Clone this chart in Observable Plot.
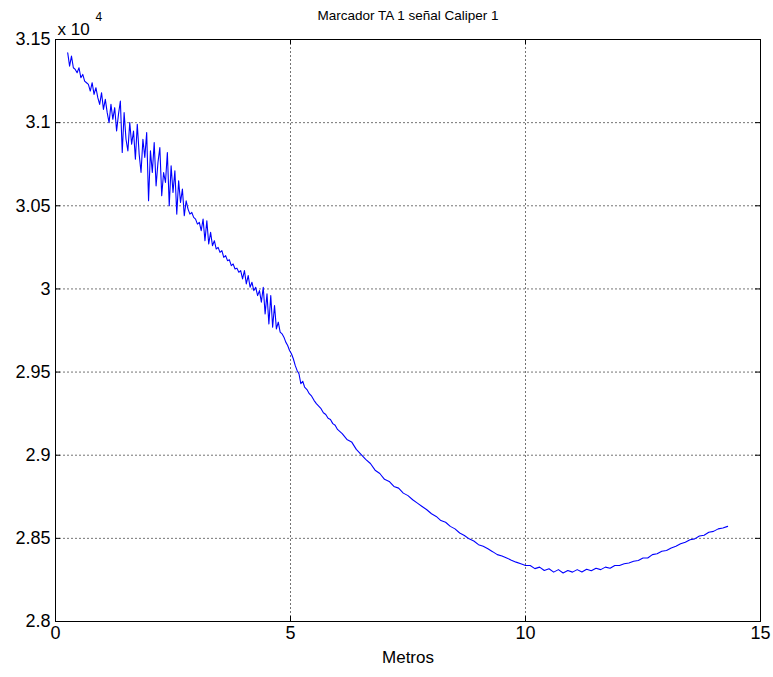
<!DOCTYPE html>
<html>
<head>
<meta charset="utf-8">
<script src="https://cdn.jsdelivr.net/npm/d3@7"></script>
<script src="https://cdn.jsdelivr.net/npm/@observablehq/plot@0.6"></script>
<style>
  html, body { margin: 0; padding: 0; background: #fff; }
  svg { display: block; }
</style>
</head>
<body>
<div id="chart"></div>
<script>
const titulo = "Marcador TA 1 señal Caliper 1";
const etiquetaX = "Metros";
const xTicks = [0, 5, 10, 15];
const yTicks = [28000, 28500, 29000, 29500, 30000, 30500, 31000, 31500];

const metros = [
  0.26,0.30,0.34,0.38,0.42,0.46,0.50,0.54,0.58,0.62,0.66,0.70,0.74,0.78,0.82,0.86,0.90,0.94,0.98,
  1.02,1.06,1.10,1.14,1.18,1.22,1.26,1.30,1.34,1.38,1.42,1.46,1.50,1.54,1.58,1.62,1.66,1.70,1.74,1.78,1.82,1.86,1.90,1.94,1.98,
  2.02,2.06,2.10,2.14,2.18,2.22,2.26,2.30,2.34,2.38,2.42,2.46,2.50,2.54,2.58,2.62,2.66,2.70,2.74,2.78,2.82,2.86,2.90,2.94,2.98,
  3.02,3.06,3.10,3.14,3.18,3.22,3.26,3.30,3.34,3.38,3.42,3.46,3.50,3.54,3.58,3.62,3.66,3.70,3.74,3.78,3.82,3.86,3.90,3.94,3.98,
  4.02,4.06,4.10,4.14,4.18,4.22,4.26,4.30,4.34,4.38,4.42,4.46,4.50,4.54,4.58,4.62,4.66,4.70,4.74,4.78,4.82,4.86,4.90,4.94,4.98,
  5.02,5.06,5.10,5.14,5.18,5.22,5.26,5.30,5.35,5.40,5.45,5.50,5.55,5.60,5.65,5.70,5.75,5.80,5.85,5.90,5.95,6.00,
  6.1,6.2,6.3,6.4,6.5,6.6,6.7,6.8,6.9,7.0,7.1,7.2,7.3,7.4,7.5,7.6,7.7,7.8,7.9,8.0,
  8.1,8.2,8.3,8.4,8.5,8.6,8.7,8.8,8.9,9.0,9.1,9.2,9.3,9.4,9.5,9.6,9.7,9.8,9.9,10.0,
  10.1,10.2,10.3,10.4,10.5,10.6,10.7,10.8,10.9,11.0,11.1,11.2,11.3,11.4,11.5,11.6,11.7,11.8,11.9,12.0,
  12.1,12.2,12.3,12.4,12.5,12.6,12.7,12.8,12.9,13.0,13.1,13.2,13.3,13.4,13.5,13.6,13.7,13.8,13.9,14.0,
  14.1,14.2,14.3
];

const valores = [
  31420,31340,31400,31330,31320,31300,31330,31270,31290,31250,31240,31230,31190,31240,31170,31210,31150,31110,31180,
  31080,31140,31060,31000,31110,31020,31090,30950,31050,31130,30820,31060,30900,30830,31000,30870,30950,30780,30990,30810,30700,30900,30790,30940,30530,
  30830,30700,30880,30620,30760,30850,30560,30700,30640,30820,30500,30740,30580,30710,30450,30650,30520,30600,30440,30530,30480,30450,30460,30430,30420,
  30390,30400,30350,30420,30290,30410,30270,30340,30260,30290,30240,30250,30220,30230,30190,30200,30170,30175,30140,30150,30120,30125,30100,30110,30060,
  30110,30030,30080,30010,30040,29990,30010,29960,29990,29920,30010,29850,29970,29790,29960,29770,29900,29760,29800,29740,29730,29710,29680,29660,29630,
  29610,29580,29540,29510,29490,29430,29445,29410,29395,29370,29355,29330,29310,29295,29280,29255,29245,29222,29215,29190,29180,29155,
  29130,29095,29080,29035,29005,28975,28950,28910,28890,28855,28842,28812,28802,28772,28757,28732,28712,28692,28672,28648,
  28632,28607,28597,28572,28557,28532,28517,28497,28484,28462,28452,28437,28420,28402,28394,28382,28369,28357,28347,28337,
  28337,28318,28327,28307,28317,28297,28312,28292,28307,28297,28312,28298,28314,28305,28320,28312,28327,28320,28337,28337,
  28347,28352,28362,28367,28382,28382,28402,28407,28422,28427,28442,28452,28467,28477,28492,28497,28514,28519,28537,28542,
  28557,28562,28572
];

const datos = metros.map((m, i) => ({x: m, y: valores[i]}));
const font = "'Liberation Sans', Arial, Helvetica, sans-serif";

const chart = Plot.plot({
  width: 773,
  height: 677,
  marginLeft: 55,
  marginRight: 13,
  marginTop: 39,
  marginBottom: 56,
  style: {fontFamily: font, fontSize: "18px", color: "#000", background: "#fff"},
  x: {domain: [0, 15], ticks: xTicks},
  y: {domain: [28000, 31500], ticks: yTicks},
  marks: [
    Plot.ruleX(xTicks, {stroke: "#000", strokeOpacity: 0.55, strokeDasharray: "2,2"}),
    Plot.ruleY(yTicks, {stroke: "#000", strokeOpacity: 0.55, strokeDasharray: "2,2"}),
    Plot.tickX(xTicks, {x: d => d, insetTop: 577, stroke: "#000"}),
    Plot.tickX(xTicks, {x: d => d, insetBottom: 577, stroke: "#000"}),
    Plot.tickY(yTicks, {y: d => d, insetRight: 700, stroke: "#000"}),
    Plot.tickY(yTicks, {y: d => d, insetLeft: 700, stroke: "#000"}),
    Plot.line(datos, {x: "x", y: "y", stroke: "#0000ff", strokeWidth: 1.1}),
    Plot.frame({stroke: "#000", strokeWidth: 1}),
    Plot.axisX({ticks: xTicks, tickSize: 0, tickPadding: 5, fontSize: 18, label: null}),
    Plot.axisY({ticks: yTicks, tickSize: 0, tickPadding: 5, fontSize: 18, label: null,
      tickFormat: d => String(+(d / 10000).toFixed(2))}),
    Plot.text([titulo], {frameAnchor: "top", dy: -29, fontSize: 13.5, fill: "#000"}),
    Plot.text([etiquetaX], {frameAnchor: "bottom", dy: 41, fontSize: 17, fill: "#000"}),
    Plot.text(["x 10"], {frameAnchor: "top-left", dx: 2, dy: -17, textAnchor: "start", fontSize: 17, fill: "#000"}),
    Plot.text(["4"], {frameAnchor: "top-left", dx: 40, dy: -27, textAnchor: "start", fontSize: 12, fill: "#000"})
  ]
});
document.getElementById("chart").appendChild(chart);
</script>
</body>
</html>
